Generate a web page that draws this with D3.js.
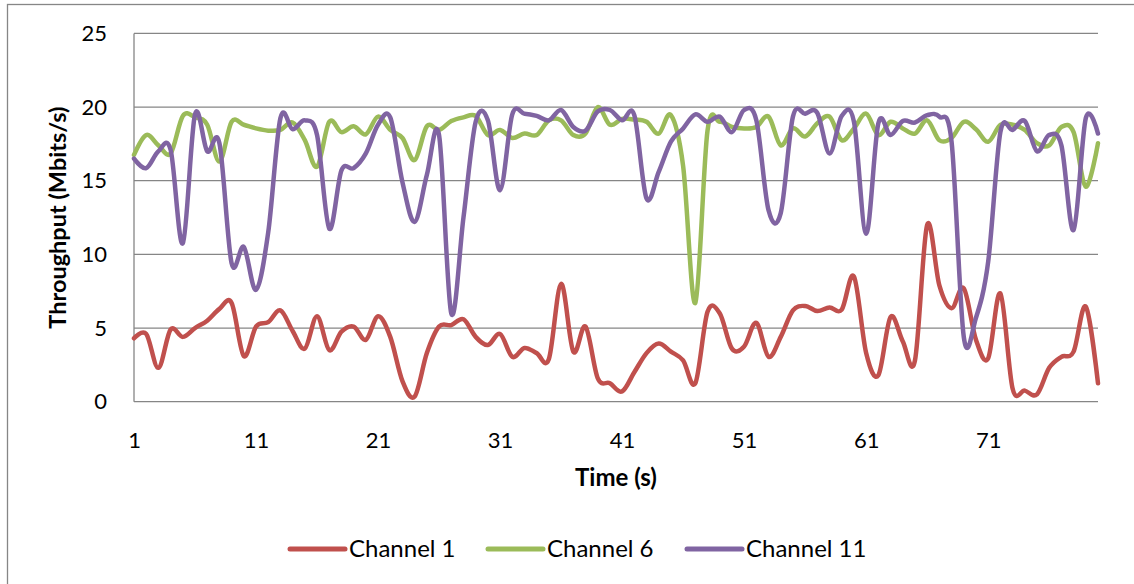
<!DOCTYPE html>
<html>
<head>
<meta charset="utf-8">
<script src="https://cdn.jsdelivr.net/npm/d3@7"></script>
<style>
  html, body { margin: 0; padding: 0; background: #fff; }
  svg { display: block; }
  text { font-family: Lato, "Open Sans", sans-serif; fill: #000; }
</style>
</head>
<body>
<svg id="chart" width="1134" height="584"></svg>
<script>
// Time axis (seconds) and per-channel throughput samples (Mbits/s)
const time = d3.range(1, 81);

const channel1 = [
  4.3, 4.6, 2.3, 4.9, 4.4, 5.0, 5.5, 6.3, 6.7, 3.1,
  5.1, 5.4, 6.2, 4.8, 3.6, 5.8, 3.5, 4.75, 5.1, 4.2,
  5.8, 4.4, 1.4, 0.35, 3.3, 5.1, 5.2, 5.6, 4.4, 3.85,
  4.6, 3.05, 3.65, 3.3, 2.9, 8.0, 3.4, 5.1, 1.6, 1.25,
  0.7, 2.0, 3.3, 3.95, 3.4, 2.8, 1.25, 6.1, 6.0, 3.6,
  3.75, 5.35, 3.05, 4.4, 6.2, 6.5, 6.15, 6.4, 6.25, 8.5,
  3.3, 1.8, 5.75, 4.1, 2.8, 12.0, 7.9, 6.35, 7.7, 4.2,
  2.95, 7.35, 0.9, 0.75, 0.5, 2.3, 3.05, 3.4, 6.45, 1.25
];

const channel6 = [
  16.75, 18.1, 17.4, 16.85, 19.4, 19.3, 18.8, 16.3, 19.0, 18.8,
  18.55, 18.4, 18.45, 18.95, 17.75, 15.95, 19.0, 18.3, 18.7, 18.15,
  19.35, 18.45, 17.9, 16.4, 18.7, 18.45, 19.05, 19.3, 19.4, 18.1,
  18.45, 17.9, 18.2, 18.1, 19.1, 19.1, 18.1, 18.2, 20.0, 18.8,
  19.2, 19.15, 19.0, 18.2, 19.45, 16.0, 6.7, 18.4, 19.0, 18.65,
  18.55, 18.65, 19.35, 17.4, 18.55, 18.0, 18.9, 19.35, 17.75, 18.55,
  19.55, 18.1, 19.0, 18.55, 18.2, 19.1, 17.75, 17.9, 19.0, 18.5,
  17.65, 18.8, 18.8, 18.45, 17.55, 17.4, 18.65, 18.3, 14.6, 17.55
];

const channel11 = [
  16.5, 15.85, 17.0, 17.1, 10.75, 19.5, 17.0, 17.55, 9.4, 10.5,
  7.6, 11.5, 19.25, 18.5, 19.1, 18.1, 11.75, 15.7, 15.85, 16.85,
  18.8, 19.3, 14.9, 12.2, 15.4, 18.1, 6.0, 12.5, 19.0, 19.1,
  14.35, 19.5, 19.55, 19.4, 19.1, 19.8, 18.65, 18.4, 19.7, 19.8,
  19.1, 19.45, 13.8, 15.6, 17.65, 18.55, 19.5, 19.0, 19.35, 18.3,
  19.8, 19.1, 13.0, 12.8, 19.35, 19.55, 19.6, 16.85, 19.4, 19.0,
  11.4, 18.9, 18.1, 19.05, 18.95, 19.45, 19.35, 17.65, 4.4, 5.7,
  9.5, 18.3, 18.45, 19.05, 17.0, 18.1, 17.4, 11.65, 19.25, 18.2
];

const seriesNames = ["Channel 1", "Channel 6", "Channel 11"];
const seriesColors = ["#C0504D", "#9BBB59", "#8064A2"];
const xTickValues = [1, 11, 21, 31, 41, 51, 61, 71];
const yTickValues = [0, 5, 10, 15, 20, 25];

const series = [channel1, channel6, channel11].map((values, i) => ({
  name: seriesNames[i],
  color: seriesColors[i],
  points: values.map((v, j) => ({ t: time[j], v }))
}));

const svg = d3.select("#chart");
const W = 1134, H = 584;
const plot = { left: 134, right: 1098, top: 33.4, bottom: 401.7 };
const gridColor = "#868686";

svg.append("rect").attr("width", W).attr("height", H).attr("fill", "#fff");

// Chart area border (extends past the bottom/right edges)
svg.append("rect")
  .attr("x", 7.5).attr("y", 4.5)
  .attr("width", W + 20).attr("height", H + 20)
  .attr("fill", "none").attr("stroke", gridColor).attr("stroke-width", 1.3);

const x = d3.scaleLinear().domain([1, 80]).range([plot.left, plot.right]);
const y = d3.scaleLinear().domain([0, 25]).range([plot.bottom, plot.top]);

// Horizontal gridlines
svg.append("g").selectAll("line")
  .data(yTickValues)
  .join("line")
  .attr("x1", plot.left).attr("x2", plot.right)
  .attr("y1", d => y(d)).attr("y2", d => y(d))
  .attr("stroke", gridColor).attr("stroke-width", 1.3);

// Vertical axis line
svg.append("line")
  .attr("x1", plot.left).attr("x2", plot.left)
  .attr("y1", y(0)).attr("y2", y(25))
  .attr("stroke", gridColor).attr("stroke-width", 1.3);

// Y axis labels
const yAxis = svg.append("g")
  .attr("transform", `translate(${plot.left},0)`)
  .call(d3.axisLeft(y).tickValues(yTickValues).tickSize(0).tickPadding(27));
yAxis.select(".domain").remove();
yAxis.selectAll("text")
  .attr("font-family", "Lato, sans-serif").attr("font-size", 22).attr("fill", "#000");

// X axis labels
const xAxis = svg.append("g")
  .attr("transform", `translate(0,${plot.bottom})`)
  .call(d3.axisBottom(x).tickValues(xTickValues).tickFormat(d3.format("d")).tickSize(0).tickPadding(31));
xAxis.select(".domain").remove();
xAxis.selectAll("text")
  .attr("font-family", "Lato, sans-serif").attr("font-size", 22).attr("fill", "#000");

// Axis titles
svg.append("text")
  .attr("x", (plot.left + plot.right) / 2).attr("y", 486)
  .attr("text-anchor", "middle")
  .attr("font-size", 24).attr("font-weight", "bold")
  .text("Time (s)");

svg.append("text")
  .attr("transform", `translate(58,${(plot.top + plot.bottom) / 2}) rotate(-90)`)
  .attr("text-anchor", "middle").attr("dy", "0.35em")
  .attr("font-size", 23.5).attr("font-weight", "bold")
  .text("Throughput (Mbits/s)");

// Smoothed series lines
const line = d3.line()
  .x(d => x(d.t))
  .y(d => y(d.v))
  .curve(d3.curveCatmullRom.alpha(0));

svg.append("g").selectAll("path")
  .data(series)
  .join("path")
  .attr("d", d => line(d.points))
  .attr("fill", "none")
  .attr("stroke", d => d.color)
  .attr("stroke-width", 4.5)
  .attr("stroke-linejoin", "round")
  .attr("stroke-linecap", "round");

// Legend
const legendStarts = [290, 488, 687];
const legend = svg.append("g").selectAll("g")
  .data(series)
  .join("g")
  .attr("transform", (d, i) => `translate(${legendStarts[i]},549)`);
legend.append("line")
  .attr("x1", 0).attr("x2", 55)
  .attr("stroke", d => d.color).attr("stroke-width", 5)
  .attr("stroke-linecap", "round");
legend.append("text")
  .attr("x", 59).attr("dy", "0.35em")
  .attr("font-size", 24)
  .text(d => d.name);
</script>
</body>
</html>
